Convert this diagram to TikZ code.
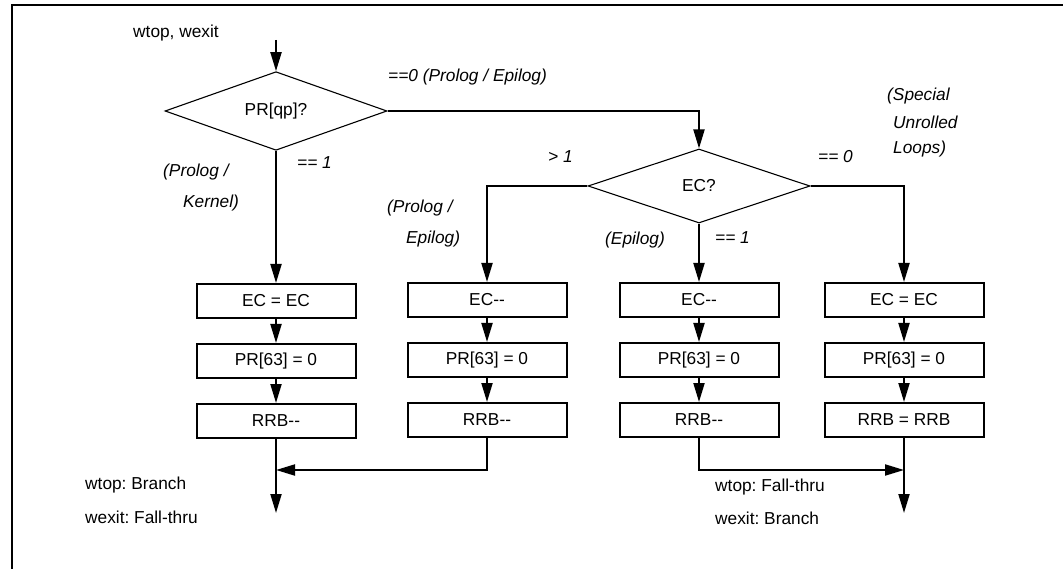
\documentclass[tikz,border=0pt]{standalone}
\usepackage{fontspec}
\setmainfont{Liberation Sans}
\usetikzlibrary{arrows.meta,shapes.geometric}
\newcommand{\figfont}{\fontsize{17.3pt}{20pt}\selectfont\frenchspacing}
\newcommand{\dmin}{-\kern0pt-}
\begin{document}
\begin{tikzpicture}[x=1pt,y=-1pt,
  conn/.style={line width=2pt,-{Triangle[length=19pt,width=11pt]}},
  plain/.style={line width=2pt},
  box/.style={draw,line width=2pt,minimum width=159pt,minimum height=34pt,inner sep=0pt,font=\figfont},
  dec/.style={draw,diamond,line width=1.1pt,minimum width=222pt,minimum height=74pt,inner sep=0pt,font=\figfont},
  lbl/.style={anchor=west,inner sep=0pt,font=\figfont\itshape},
  txt/.style={anchor=west,inner sep=0pt,font=\figfont}]
\useasboundingbox (0,0) rectangle (1063,569);
\draw[plain] (12,569) -- (12,5) -- (1063,5);

% decisions
\node[dec] (d1) at (276,111) {PR[qp]?};
\node[dec] (d2) at (699,186) {EC?};

% boxes
\node[box] (a1) at (276,301) {EC = EC};
\node[box] (a2) at (276,361) {PR[63] = 0};
\node[box] (a3) at (276,421) {RRB\dmin};
\node[box] (b1) at (487,300) {EC\dmin};
\node[box] (b2) at (487,360) {PR[63] = 0};
\node[box] (b3) at (487,420) {RRB\dmin};
\node[box] (c1) at (699,300) {EC\dmin};
\node[box] (c2) at (699,360) {PR[63] = 0};
\node[box] (c3) at (699,420) {RRB\dmin};
\node[box] (e1) at (904,300) {EC = EC};
\node[box] (e2) at (904,360) {PR[63] = 0};
\node[box] (e3) at (904,420) {RRB = RRB};

% free ends
\coordinate (in0) at (276,40);
\coordinate (m1) at (276,470);
\coordinate (m2) at (904,470);
\coordinate (out1) at (276,513);
\coordinate (out2) at (904,513);

% connectors
\draw[conn] (in0) -- (d1.north);
\draw[conn] (d1.east) -| (d2.north);
\draw[conn] (d1.south) -- (a1.north);
\draw[conn] (d2.west) -| (b1.north);
\draw[conn] (d2.south) -- (c1.north);
\draw[conn] (d2.east) -| (e1.north);
\draw[conn] (a1) -- (a2);
\draw[conn] (a2) -- (a3);
\draw[conn] (b1) -- (b2);
\draw[conn] (b2) -- (b3);
\draw[conn] (c1) -- (c2);
\draw[conn] (c2) -- (c3);
\draw[conn] (e1) -- (e2);
\draw[conn] (e2) -- (e3);
\draw[conn] (a3.south) -- (out1);
\draw[conn] (b3.south) |- (m1);
\draw[conn] (c3.south) |- (m2);
\draw[conn] (e3.south) -- (out2);

% texts
\node[txt] (t0) at (133,33) {wtop, wexit};
\node[lbl] (l1) at (388,77) {==0 (Prolog / Epilog)};
\node[lbl] (l2) at (297,163) {== 1};
\node[lbl] (l3) at (163,172) {(Prolog /};
\node[lbl] (l4) at (183,203) {Kernel)};
\node[lbl] (l5) at (548,157) {> 1};
\node[lbl] (l6) at (387,208) {(Prolog /};
\node[lbl] (l7) at (406,239) {Epilog)};
\node[lbl] (l8) at (818,157) {== 0};
\node[lbl] (l9) at (887,96) {(Special};
\node[lbl] (l10) at (893,122) {Unrolled};
\node[lbl] (l11) at (893,149) {Loops)};
\node[lbl] (l12) at (605,240) {(Epilog)};
\node[lbl] (l13) at (715,238) {== 1};
\node[txt] (t1) at (85,485) {wtop: Branch};
\node[txt] (t2) at (85,517) {wexit: Fall-thru};
\node[txt] (t3) at (715,487) {wtop: Fall-thru};
\node[txt] (t4) at (715,518) {wexit: Branch};
\end{tikzpicture}
\end{document}
